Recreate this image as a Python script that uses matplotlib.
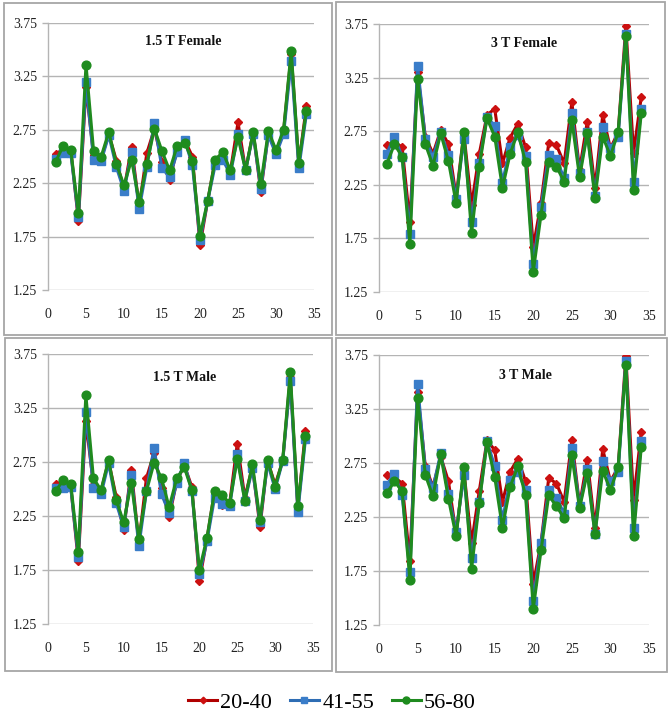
import matplotlib
matplotlib.use("Agg")
import matplotlib.pyplot as plt
from matplotlib.patches import Rectangle
from matplotlib.lines import Line2D

plt.rcParams['font.family'] = ['Liberation Serif', 'DejaVu Serif']

x = list(range(1, 35))
series_names = ["20-40", "41-55", "56-80"]

# 1.5 T Female
f15_2040 = [2.52, 2.57, 2.56, 1.90, 3.15, 2.51, 2.48, 2.71, 2.46, 2.19, 2.59, 2.03, 2.53, 2.76, 2.45, 2.28, 2.57,
            2.65, 2.50, 1.67, 2.08, 2.47, 2.53, 2.36, 2.82, 2.37, 2.73, 2.17, 2.72, 2.54, 2.74, 3.46, 2.43, 2.97]
f15_4155 = [2.48, 2.53, 2.53, 1.93, 3.20, 2.47, 2.46, 2.70, 2.40, 2.18, 2.54, 2.01, 2.40, 2.81, 2.39, 2.31, 2.54,
            2.65, 2.42, 1.72, 2.08, 2.42, 2.47, 2.33, 2.71, 2.37, 2.71, 2.20, 2.70, 2.52, 2.71, 3.39, 2.39, 2.90]
f15_5680 = [2.45, 2.60, 2.56, 1.97, 3.36, 2.55, 2.50, 2.73, 2.43, 2.23, 2.47, 2.07, 2.43, 2.76, 2.55, 2.37, 2.60,
            2.63, 2.46, 1.76, 2.08, 2.47, 2.54, 2.37, 2.68, 2.37, 2.73, 2.24, 2.74, 2.56, 2.75, 3.49, 2.44, 2.93]

# 3 T Female
f3_2040 = [2.62, 2.65, 2.60, 1.90, 3.30, 2.70, 2.54, 2.76, 2.63, 2.14, 2.73, 2.06, 2.54, 2.90, 2.96, 2.45, 2.69,
           2.82, 2.60, 1.67, 2.08, 2.64, 2.62, 2.45, 3.02, 2.39, 2.84, 2.22, 2.90, 2.59, 2.74, 3.73, 2.55, 3.07]
f3_4155 = [2.54, 2.70, 2.51, 1.79, 3.36, 2.68, 2.51, 2.74, 2.53, 2.12, 2.68, 1.90, 2.45, 2.88, 2.80, 2.27, 2.60,
           2.71, 2.52, 1.51, 2.04, 2.53, 2.49, 2.31, 2.92, 2.36, 2.74, 2.15, 2.79, 2.59, 2.70, 3.66, 2.28, 2.96]
f3_5680 = [2.44, 2.63, 2.51, 1.70, 3.24, 2.63, 2.43, 2.73, 2.47, 2.08, 2.74, 1.80, 2.42, 2.87, 2.70, 2.22, 2.54,
           2.74, 2.46, 1.44, 1.97, 2.46, 2.42, 2.28, 2.85, 2.32, 2.73, 2.13, 2.70, 2.52, 2.74, 3.64, 2.20, 2.92]

# 1.5 T Male
m15_2040 = [2.55, 2.56, 2.53, 1.83, 3.13, 2.54, 2.48, 2.76, 2.43, 2.12, 2.68, 2.00, 2.60, 2.83, 2.51, 2.24, 2.57,
            2.72, 2.52, 1.65, 2.04, 2.48, 2.35, 2.37, 2.92, 2.42, 2.71, 2.15, 2.76, 2.54, 2.76, 3.54, 2.31, 3.04]
m15_4155 = [2.51, 2.51, 2.52, 1.87, 3.21, 2.51, 2.45, 2.74, 2.37, 2.15, 2.63, 1.97, 2.48, 2.88, 2.45, 2.28, 2.56,
            2.74, 2.48, 1.71, 2.02, 2.42, 2.36, 2.34, 2.82, 2.39, 2.69, 2.19, 2.74, 2.50, 2.76, 3.50, 2.29, 2.96]
m15_5680 = [2.48, 2.58, 2.55, 1.92, 3.37, 2.60, 2.49, 2.77, 2.40, 2.19, 2.56, 2.04, 2.48, 2.74, 2.60, 2.33, 2.60,
            2.70, 2.49, 1.75, 2.05, 2.48, 2.44, 2.37, 2.78, 2.39, 2.73, 2.21, 2.77, 2.52, 2.77, 3.58, 2.34, 2.99]

# 3 T Male
m3_2040 = [2.64, 2.62, 2.56, 1.84, 3.41, 2.72, 2.53, 2.81, 2.58, 2.09, 2.68, 2.01, 2.49, 2.96, 2.87, 2.39, 2.67,
           2.79, 2.58, 1.63, 2.01, 2.61, 2.56, 2.39, 2.96, 2.36, 2.78, 2.15, 2.88, 2.58, 2.71, 3.74, 2.41, 3.04]
m3_4155 = [2.55, 2.65, 2.45, 1.74, 3.48, 2.69, 2.52, 2.84, 2.46, 2.11, 2.64, 1.87, 2.39, 2.95, 2.72, 2.22, 2.59,
           2.67, 2.50, 1.47, 2.01, 2.50, 2.43, 2.28, 2.89, 2.35, 2.69, 2.09, 2.77, 2.58, 2.67, 3.69, 2.15, 2.95]
m3_5680 = [2.47, 2.58, 2.49, 1.67, 3.35, 2.64, 2.44, 2.83, 2.42, 2.07, 2.71, 1.77, 2.38, 2.94, 2.62, 2.15, 2.53,
           2.72, 2.45, 1.40, 1.94, 2.45, 2.35, 2.24, 2.82, 2.33, 2.66, 2.09, 2.68, 2.50, 2.71, 3.66, 2.07, 2.90]

panel_titles = ["1.5 T Female", "3 T Female", "1.5 T Male", "3 T Male"]
panel_data = [
    (f15_2040, f15_4155, f15_5680),
    (f3_2040, f3_4155, f3_5680),
    (m15_2040, m15_4155, m15_5680),
    (m3_2040, m3_4155, m3_5680),
]
yticks = [1.25, 1.75, 2.25, 2.75, 3.25, 3.75]
xticks = [0, 5, 10, 15, 20, 25, 30, 35]

W, H = 672, 718
fig = plt.figure(figsize=(W / 100, H / 100), dpi=100)

# axes rectangles in pixels: left, top, right, bottom
ax_px = [(48, 23, 314, 290), (379, 24, 649, 292), (48, 354, 313, 624), (379, 355, 649, 625)]
box_px = [(4, 3, 332, 335), (336, 2, 665, 335), (5, 338, 332, 671), (336, 338, 667, 672)]
title_pos = [(17.8, 3.58), (18.8, 3.57), (18.0, 3.53), (19.0, 3.56)]

styles = [
    dict(color="#B00000", marker="D", markersize=4.2, markerfacecolor="#CC1010", markeredgecolor="#CC1010"),
    dict(color="#2E6DB4", marker="s", markersize=5.5, markerfacecolor="#3A7DC9", markeredgecolor="#3A7DC9"),
    dict(color="#1F8A1F", marker="o", markersize=6.3, markerfacecolor="#1E8C1E", markeredgecolor="#1E8C1E"),
]

for (l, t, r, b) in box_px:
    fig.patches.append(Rectangle((l / W, 1 - b / H), (r - l) / W, (b - t) / H, transform=fig.transFigure,
                                 fill=False, edgecolor="#A6A6A6", linewidth=1.3))

for i, (l, t, r, b) in enumerate(ax_px):
    ax = fig.add_axes([l / W, 1 - b / H, (r - l) / W, (b - t) / H])
    ax.set_facecolor("none")
    for s, st in zip(panel_data[i], styles):
        ax.plot(x, s, linewidth=2.2, **st)
    ax.set_xlim(0, 35)
    ax.set_ylim(1.25, 3.75)
    ax.set_yticks(yticks)
    ax.set_yticklabels([f"{v:.2f}" for v in yticks])
    ax.set_xticks(xticks)
    ax.set_xticklabels([str(v) for v in xticks])
    ax.grid(axis="y", color="#B4B4B4", linewidth=1.0)
    ax.set_axisbelow(True)
    for sp in ["top", "right", "bottom"]:
        ax.spines[sp].set_visible(False)
    ax.spines["left"].set_color("#B4B4B4")
    ax.spines["left"].set_linewidth(1.0)
    ax.tick_params(axis="y", length=4, width=1.0, color="#B4B4B4", pad=4, labelsize=10, labelcolor="#222222")
    ax.tick_params(axis="x", length=0, pad=13, labelsize=10, labelcolor="#222222")
    ax.text(title_pos[i][0], title_pos[i][1], panel_titles[i], ha="center", va="center",
            fontsize=10, fontweight="bold", color="#111111")

handles = [Line2D([], [], linewidth=2.2, **{**st, "markersize": st["markersize"] * 0.8}) for st in styles]
fig.legend(handles, series_names, loc="center", bbox_to_anchor=(332 / W, 1 - 703 / H), ncol=3,
           frameon=False, fontsize=16, handlelength=1.3, handletextpad=0.15, columnspacing=0.8)

fig.savefig("out.png", dpi=100)
